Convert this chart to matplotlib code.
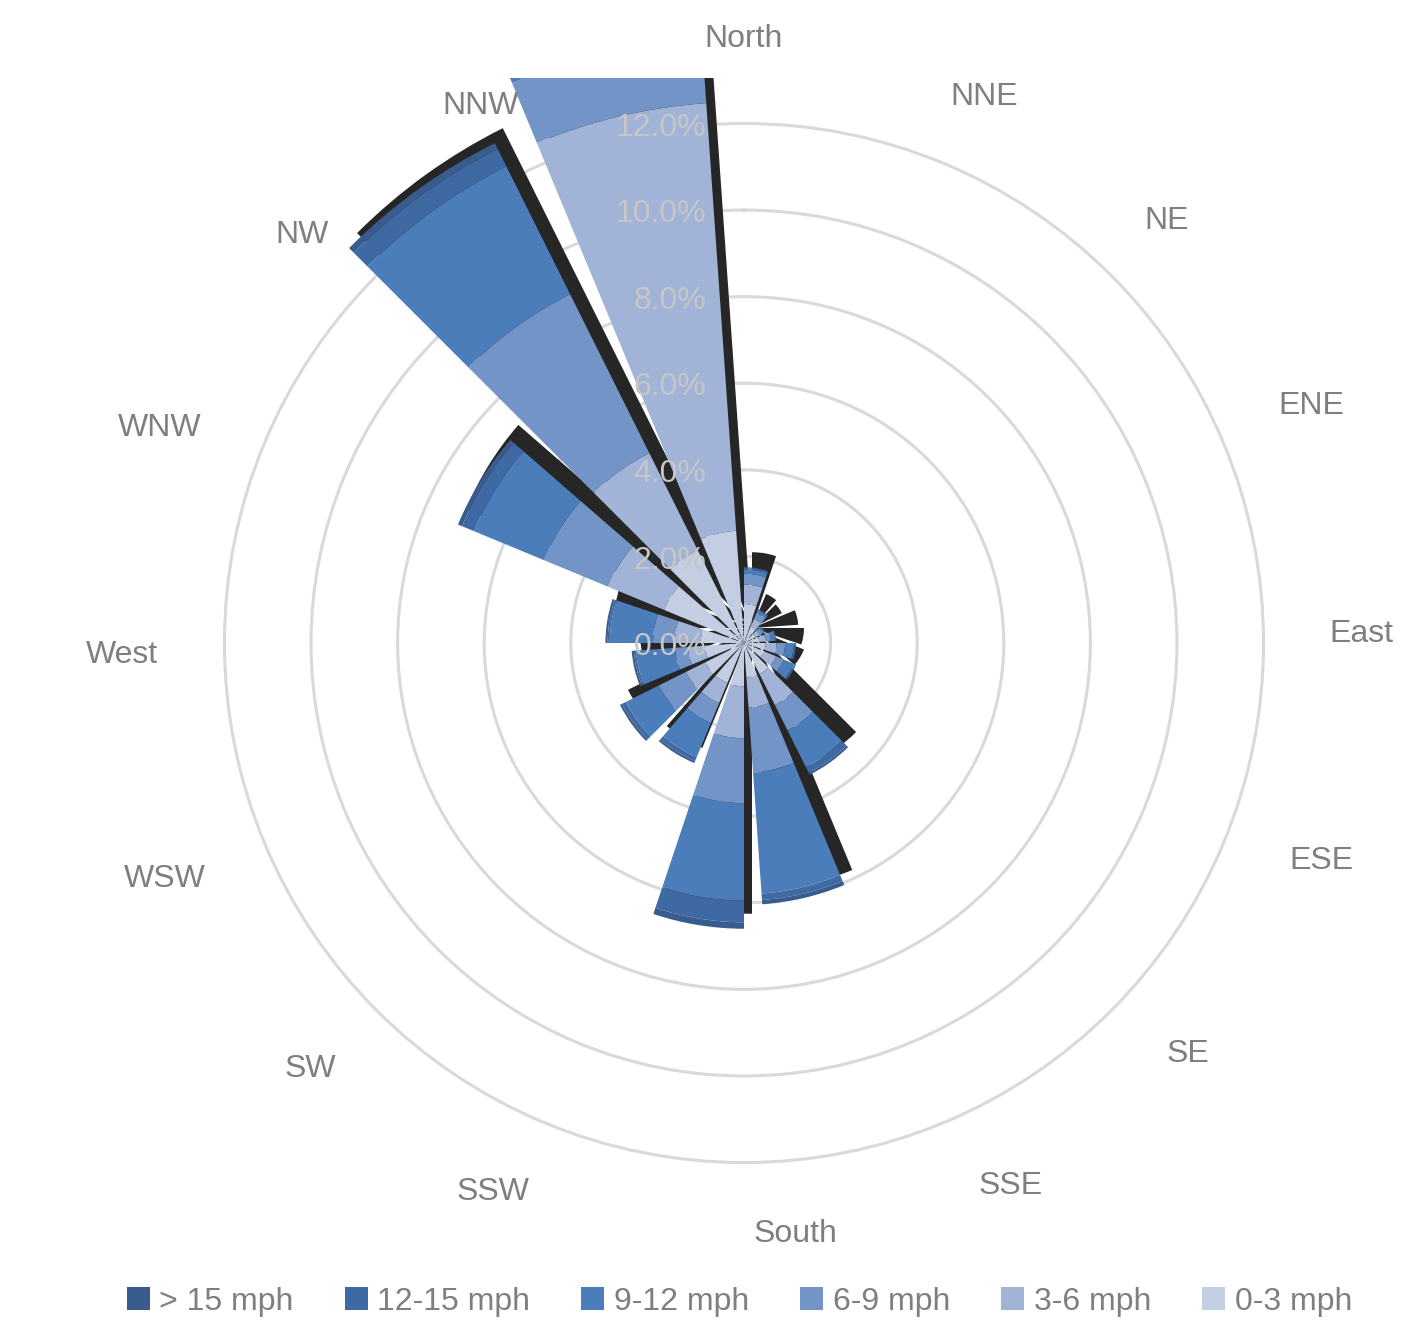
import numpy as np
import matplotlib
matplotlib.use('Agg')
import matplotlib.pyplot as plt
from matplotlib.patches import Patch
from matplotlib.transforms import ScaledTranslation

plt.rcParams['font.family'] = ['Liberation Sans', 'DejaVu Sans']

directions = ['North', 'NNE', 'NE', 'ENE', 'East', 'ESE', 'SE', 'SSE',
              'South', 'SSW', 'SW', 'WSW', 'West', 'WNW', 'NW', 'NNW']

# frequency (%) per speed band, per direction
mph_0_3 = [0.90, 0.40, 0.30, 0.35, 0.50, 0.50, 0.80, 0.80, 1.00, 1.00, 1.00, 0.90, 1.00, 2.00, 2.40, 2.60]
mph_3_6 = [0.45, 0.20, 0.10, 0.15, 0.25, 0.30, 0.80, 0.70, 1.20, 0.50, 0.50, 0.40, 0.60, 1.40, 2.50, 9.90]
mph_6_9 = [0.25, 0.15, 0.08, 0.12, 0.20, 0.20, 0.65, 1.50, 1.50, 0.50, 0.70, 0.30, 0.50, 1.60, 4.10, 1.50]
mph_9_12 = [0.10, 0.07, 0.05, 0.10, 0.20, 0.25, 0.95, 2.80, 2.25, 0.85, 0.85, 0.90, 1.00, 1.75, 3.30, 0.40]
mph_12_15 = [0.03, 0.02, 0.01, 0.02, 0.03, 0.03, 0.15, 0.15, 0.50, 0.10, 0.10, 0.05, 0.05, 0.30, 0.45, 0.20]
mph_15 = [0.02, 0.01, 0.01, 0.01, 0.02, 0.02, 0.05, 0.10, 0.15, 0.05, 0.05, 0.05, 0.05, 0.10, 0.15, 0.10]

# reach of the dark shadow behind each wedge (%)
shadow_reach = [1.75, 0.85, 0.77, 1.07, 1.20, 1.30, 3.40, 6.05, 6.60, 3.00, 3.20, 2.60, 3.20, 7.15, 12.90, 14.70]

band_labels = ['0-3 mph', '3-6 mph', '6-9 mph', '9-12 mph', '12-15 mph', '> 15 mph']
band_colors = ['#C3CEE3', '#A1B4D7', '#7394C7', '#4A7DBA', '#3F69A3', '#395C8E']
series = [mph_0_3, mph_3_6, mph_6_9, mph_9_12, mph_12_15, mph_15]

ring_ticks = [0, 2, 4, 6, 8, 10, 12]

fig = plt.figure(figsize=(14.02, 13.22), dpi=100)
W, H = 1402, 1322
cx, cy, rad = 744, 643, 565
ax = fig.add_axes([(cx - rad) / W, 1 - (cy + rad) / H, 2 * rad / W, 2 * rad / H],
                  projection='polar')
ax.set_theta_zero_location('N')
ax.set_theta_direction(-1)
ax.set_ylim(0, 13.05)
ax.set_yticks(ring_ticks[1:])
ax.set_yticklabels([])
ax.set_xticks([])
ax.spines['polar'].set_visible(False)
ax.yaxis.grid(True, color='#D9D9D9', linewidth=2.2)
ax.set_axisbelow(True)
ax.patch.set_alpha(0)

theta = np.deg2rad(np.arange(len(directions)) * 22.5)
width = np.deg2rad(18.5)

# dark drop shadow behind each wedge
shadow_tr = ax.transData + ScaledTranslation(0.08, 0.15, fig.dpi_scale_trans)
shadow = ax.bar(theta, shadow_reach, width=width, align='edge', color='#262626',
                linewidth=0, zorder=2, transform=shadow_tr)
patches = list(shadow)

bottom = np.zeros(len(directions))
for vals, col in zip(series, band_colors):
    bars = ax.bar(theta, vals, width=width, bottom=bottom, align='edge',
                  color=col, linewidth=0, zorder=3)
    patches += list(bars)
    bottom += np.array(vals)

for p in patches:
    p.set_clip_path(None)
    p.set_clip_box(ax.bbox)

# direction labels (angle in degrees, radius in % units)
label_pos = {'North': (0, 14.04), 'NNE': (23.6, 13.86), 'NE': (44.8, 13.86),
             'ENE': (67, 14.23), 'East': (88.8, 14.27), 'ESE': (110.3, 14.23),
             'SE': (132.5, 13.9), 'SSE': (153.7, 13.88), 'South': (175, 13.6),
             'SSW': (204.7, 13.86), 'SW': (225.8, 13.97), 'WSW': (248.2, 14.41),
             'West': (269.3, 14.36), 'WNW': (290.6, 14.41), 'NW': (313, 13.97),
             'NNW': (334, 13.9)}
for name in directions:
    ang, r = label_pos[name]
    ax.annotate(name, xy=(np.deg2rad(ang), r), xytext=(0, -3), textcoords='offset points',
                ha='center', va='center', fontsize=23, color='#7F7F7F',
                annotation_clip=False)

# percentage labels
for t in ring_ticks:
    ax.annotate('%.1f%%' % t, xy=(0, t), xytext=(-27, -3), textcoords='offset points',
                ha='right', va='center', fontsize=23, color='#C6C6C6', zorder=6)

handles = [Patch(facecolor=c, edgecolor='none') for c in band_colors[::-1]]
fig.legend(handles, band_labels[::-1], loc='center', bbox_to_anchor=(0.5275, 1 - 1302 / H),
           ncol=6, frameon=False, fontsize=23, handlelength=0.72, handleheight=0.72,
           handletextpad=0.3, columnspacing=1.6, labelcolor='#7F7F7F')

fig.savefig('out.png', dpi=100)
